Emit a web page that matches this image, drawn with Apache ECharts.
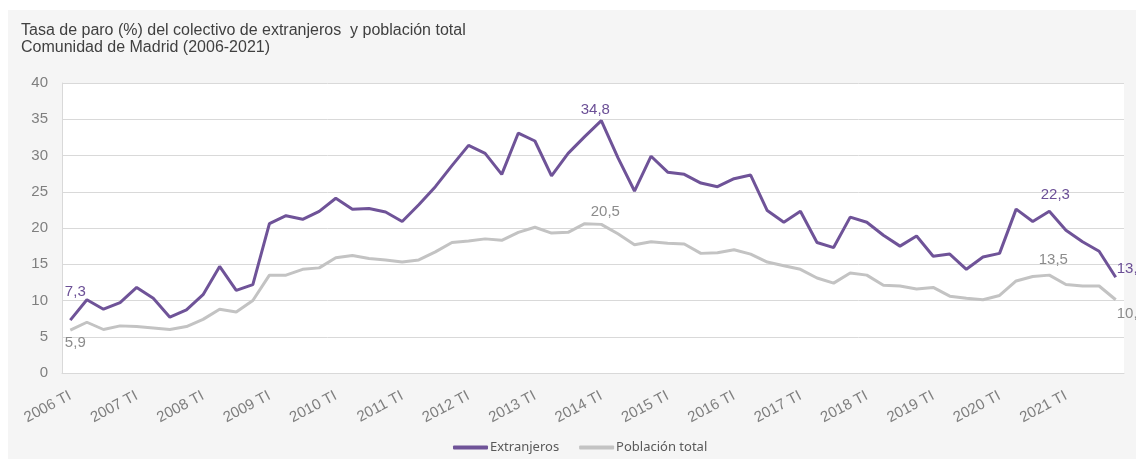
<!DOCTYPE html>
<html>
<head>
<meta charset="utf-8">
<script src="https://cdn.jsdelivr.net/npm/echarts@6/dist/echarts.min.js"></script>
<style>
  html, body { margin: 0; padding: 0; background: #fff; }
  #chart { width: 1136px; height: 459px; }
</style>
</head>
<body>
<div id="chart"></div>
<script>
// trimestres 2006 TI .. 2021 TIV
const years = [2006, 2007, 2008, 2009, 2010, 2011, 2012, 2013, 2014, 2015, 2016, 2017, 2018, 2019, 2020, 2021];
const quarters = ["TI", "TII", "TIII", "TIV"];
const categories = [];
years.forEach((y) => quarters.forEach((q) => categories.push(y + " " + q)));

const extranjeros = [
  7.3, 10.1, 8.8, 9.7, 11.8, 10.3, 7.7, 8.7,
  10.8, 14.7, 11.4, 12.2, 20.6, 21.7, 21.2, 22.3,
  24.1, 22.6, 22.7, 22.2, 20.9, 23.2, 25.7, 28.6,
  31.4, 30.3, 27.4, 33.1, 32.0, 27.2, 30.3, 32.6,
  34.8, 29.7, 25.1, 29.9, 27.7, 27.4, 26.2, 25.7,
  26.8, 27.3, 22.4, 20.8, 22.3, 18.0, 17.3, 21.5,
  20.8, 19.0, 17.5, 18.9, 16.1, 16.4, 14.3, 16.0,
  16.5, 22.6, 20.9, 22.3, 19.7, 18.1, 16.8, 13.2
];
const poblacionTotal = [
  5.9, 7.0, 6.0, 6.5, 6.4, 6.2, 6.0, 6.4,
  7.4, 8.8, 8.4, 10.0, 13.5, 13.5, 14.3, 14.5,
  15.9, 16.2, 15.8, 15.6, 15.3, 15.6, 16.7, 18.0,
  18.2, 18.5, 18.3, 19.4, 20.1, 19.3, 19.4, 20.6,
  20.5, 19.2, 17.7, 18.1, 17.9, 17.8, 16.5, 16.6,
  17.0, 16.4, 15.3, 14.8, 14.3, 13.1, 12.4, 13.8,
  13.5, 12.1, 12.0, 11.6, 11.8, 10.6, 10.3, 10.1,
  10.7, 12.7, 13.3, 13.5, 12.2, 12.0, 12.0, 10.1
];

// puntos etiquetados: indice -> posicion
const labelsExtranjeros = { 0: { position: "top", offset: [5, -16] }, 32: { position: "top", offset: [-6, 2] }, 59: { position: "top", offset: [6, -4] }, 63: { position: "right", offset: [-4, -8] } };
const labelsPoblacion = { 0: { position: "bottom", offset: [5, 0] }, 32: { position: "top", offset: [4, 0] }, 59: { position: "top", offset: [4, -3] }, 63: { position: "right", offset: [-4, 14] } };

const fmt = (p) => String(p.value).replace(".", ",");

function buildData(values, labels, color) {
  return values.map((v, i) => {
    if (!labels[i]) return v;
    return {
      value: v,
      label: Object.assign({ show: true, color: color, fontSize: 15, formatter: fmt, fontFamily: "Liberation Sans" }, labels[i]),
    };
  });
}

const purple = "#6f5398";
const gray = "#c3c3c3";

const chart = echarts.init(document.getElementById("chart"));
chart.setOption({
  backgroundColor: "#ffffff",
  animation: false,
  graphic: [
    { type: "rect", z: -10, shape: { x: 8, y: 10, width: 1128, height: 449 }, style: { fill: "#f5f5f5" } },
  ],
  title: {
    text: "Tasa de paro (%) del colectivo de extranjeros  y población total\nComunidad de Madrid (2006-2021)",
    left: 21,
    top: 22,
    padding: 0,
    textStyle: { fontFamily: "Liberation Sans", fontSize: 16, fontWeight: "normal", color: "#404040", lineHeight: 17 },
  },
  legend: {
    bottom: 5,
    left: 453,
    padding: 0,
    itemGap: 20,
    itemWidth: 35,
    itemHeight: 4,
    icon: "roundRect",
    textStyle: { fontFamily: "Noto Sans", fontSize: 13, color: "#595959", padding: [0, 0, 0, -3] },
    data: ["Extranjeros", "Población total"],
  },
  grid: {
    left: 62,
    right: 12,
    top: 83,
    bottom: 86,
    show: true,
    backgroundColor: "#ffffff",
    borderWidth: 0,
  },
  xAxis: {
    type: "category",
    data: categories,
    boundaryGap: true,
    axisLine: { lineStyle: { color: "#d9d9d9", width: 1 } },
    axisTick: { show: false },
    axisLabel: {
      interval: 3,
      rotate: 28,
      margin: 22,
      color: "#7f7f7f",
      fontSize: 15,
      fontFamily: "Liberation Sans",
    },
  },
  yAxis: {
    type: "value",
    min: 0,
    max: 40,
    interval: 5,
    axisLine: { show: true, lineStyle: { color: "#d9d9d9" } },
    axisTick: { show: false },
    splitLine: { lineStyle: { color: "#d9d9d9" } },
    axisLabel: { color: "#7f7f7f", fontSize: 15, margin: 14, fontFamily: "Liberation Sans" },
  },
  series: [
    {
      name: "Población total",
      type: "line",
      data: buildData(poblacionTotal, labelsPoblacion, "#8c8c8c"),
      showSymbol: true,
      showAllSymbol: true,
      symbol: "circle",
      symbolSize: 0,
      lineStyle: { color: gray, width: 3 },
      itemStyle: { color: gray },
      z: 2,
    },
    {
      name: "Extranjeros",
      type: "line",
      data: buildData(extranjeros, labelsExtranjeros, "#6b4f96"),
      showSymbol: true,
      showAllSymbol: true,
      symbol: "circle",
      symbolSize: 0,
      lineStyle: { color: purple, width: 3 },
      itemStyle: { color: purple },
      z: 3,
    },
  ],
});
</script>
</body>
</html>
